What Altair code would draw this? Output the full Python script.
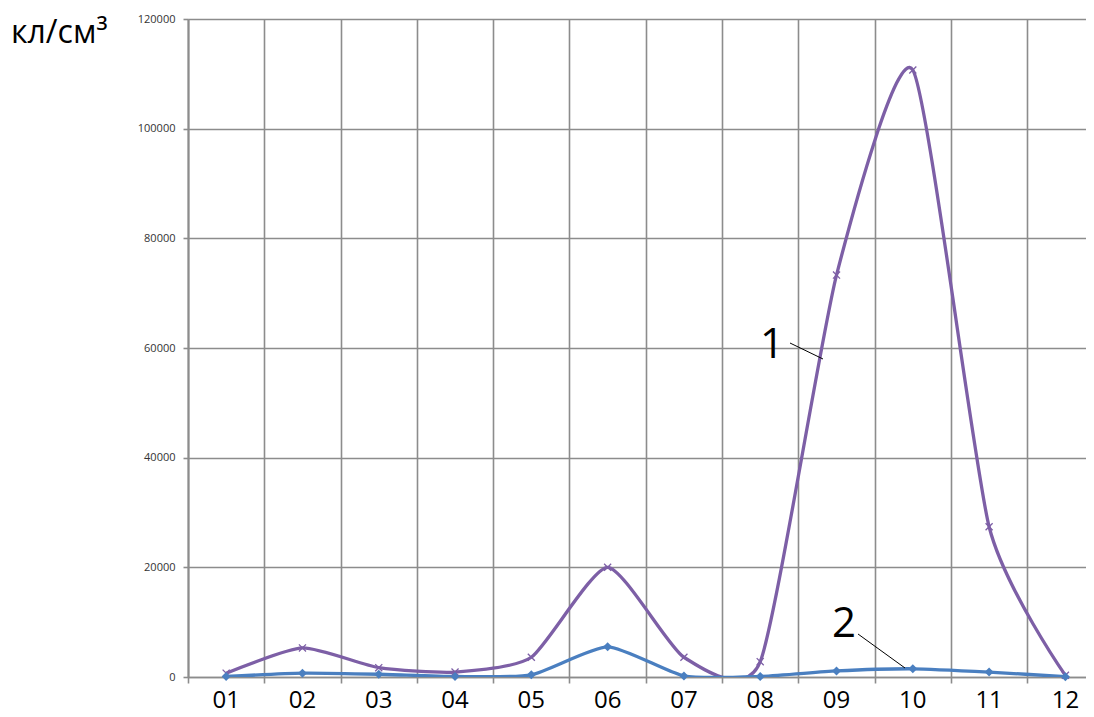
import altair as alt
import pandas as pd

months = ["01", "02", "03", "04", "05", "06", "07", "08", "09", "10", "11", "12"]
series1 = [700, 5300, 1700, 900, 3600, 20000, 3600, 2800, 73300, 110700, 27400, 300]
series2 = [100, 700, 500, 100, 400, 5500, 200, 100, 1100, 1500, 900, 50]
y_ticks = [0, 20000, 40000, 60000, 80000, 100000, 120000]
x_positions = list(range(1, 13))
x_bounds = [0.5 + i for i in range(12)]

df1 = pd.DataFrame({"x": x_positions, "m": months, "v": series1})
df2 = pd.DataFrame({"x": x_positions, "m": months, "v": series2})
dfm = pd.DataFrame({"x": x_positions, "m": months})

PURPLE = "#7d5fa6"
BLUE = "#4a7fc0"
GRID = "#8c8c8c"

x_scale = alt.Scale(domain=[0.5, 12.27], nice=False, zero=False)
y_scale = alt.Scale(domain=[0, 120000], nice=False)

x_axis = alt.Axis(
    values=x_bounds,
    labels=False,
    grid=True,
    gridColor=GRID,
    gridWidth=1.6,
    tickColor=GRID,
    tickWidth=1.6,
    tickSize=6,
    domainColor=GRID,
    domainWidth=1.6,
    title=None,
)
y_axis = alt.Axis(
    values=y_ticks,
    format="d",
    labelFont="Open Sans",
    labelFontSize=11,
    labelColor="#333333",
    labelPadding=8,
    grid=True,
    gridColor=GRID,
    gridWidth=1.6,
    tickColor=GRID,
    tickWidth=1.6,
    tickSize=5,
    domainColor=GRID,
    domainWidth=2,
    title=None,
)

base1 = alt.Chart(df1)
base2 = alt.Chart(df2)

X = alt.X("x:Q", scale=x_scale)
Y = alt.Y("v:Q", scale=y_scale)

line1 = base1.mark_line(interpolate="cardinal", tension=0.4, color=PURPLE, strokeWidth=3.3, clip=True).encode(
    x=alt.X("x:Q", scale=x_scale, axis=x_axis), y=alt.Y("v:Q", scale=y_scale, axis=y_axis))
line2 = base2.mark_line(interpolate="cardinal", tension=0.4, color=BLUE, strokeWidth=3.3, clip=True).encode(x=X, y=Y)
pts1 = base1.mark_point(shape="M-1,-1L1,1M-1,1L1,-1", filled=False, color=PURPLE, size=50, strokeWidth=1.3, opacity=1).encode(x=X, y=Y)
pts2 = base2.mark_point(shape="diamond", filled=True, color=BLUE, size=80, opacity=1).encode(x=X, y=Y)

month_labels = alt.Chart(dfm).mark_text(
    font="Open Sans", fontSize=24, align="center", baseline="alphabetic", color="#000000"
).encode(x=X, y=alt.value(689), text="m:N")

ann = pd.DataFrame({"t": ["1"]})
unit_title = alt.Chart(pd.DataFrame({"t": ["кл/см³"]})).mark_text(
    font="Open Sans", fontSize=32, align="left", baseline="alphabetic", color="#000000"
).encode(text="t:N", x=alt.value(-177), y=alt.value(24))

lab1 = alt.Chart(pd.DataFrame({"t": ["1"]})).mark_text(
    font="Open Sans", fontSize=42, align="center", baseline="middle", color="#000000"
).encode(text="t:N", x=alt.value(584), y=alt.value(326))
lab2 = alt.Chart(pd.DataFrame({"t": ["2"]})).mark_text(
    font="Open Sans", fontSize=42, align="center", baseline="middle", color="#000000"
).encode(text="t:N", x=alt.value(656), y=alt.value(605))
lead1 = alt.Chart(ann).mark_rule(color="#000000", strokeWidth=1).encode(
    x=alt.value(602), y=alt.value(324), x2=alt.value(635), y2=alt.value(340))
lead2 = alt.Chart(ann).mark_rule(color="#000000", strokeWidth=1).encode(
    x=alt.value(670), y=alt.value(615), x2=alt.value(717), y2=alt.value(649))

chart = alt.layer(line1, line2, pts1, pts2, month_labels, unit_title, lab1, lab2, lead1, lead2).properties(
    width=898,
    height=658,
    autosize=alt.AutoSizeParams(type="none"),
    padding={"left": 180, "top": 11, "right": 0, "bottom": 38},
    background="white",
).configure_view(stroke=None)

chart.save("out.html", embed_options={"renderer": "svg", "actions": False})
